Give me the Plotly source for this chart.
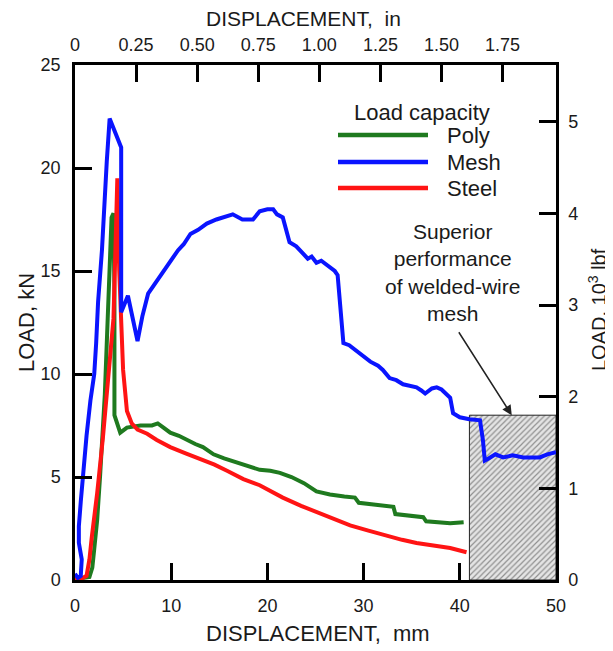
import plotly.graph_objects as go

# ---------------- data (displacement mm, load kN) ----------------
mesh_x = [0.0, 0.3, 0.6, 0.7, 0.4, 0.4, 0.6, 0.85, 1.2, 1.6, 2.0, 2.2, 2.4, 2.8, 3.1, 3.3, 3.6, 4.8, 4.8,
          5.5, 6.5, 7.0, 7.6, 8.5, 9.2, 9.9, 10.7, 11.3, 12.0, 12.8, 13.7, 14.7, 15.8, 16.4, 17.4, 18.5,
          19.2, 20.0, 20.6, 21.0, 21.6, 22.0, 22.3, 23.0, 23.4, 24.2, 24.6, 25.1, 25.6, 26.2, 27.0, 27.3,
          27.6, 27.9, 28.5, 29.3, 30.0, 30.7, 31.5, 32.0, 32.7, 33.4, 34.1, 35.0, 35.5, 36.0, 36.4, 37.1,
          37.6, 38.1, 39.0, 39.3, 40.0, 41.0, 42.1, 42.4, 42.6, 43.0, 43.7, 44.5, 45.5, 46.6, 48.3, 49.1, 50.0]
mesh_y = [0.3, 0.1, 0.2, 1.0, 1.8, 2.6, 3.8, 5.3, 7.0, 8.7, 10.0, 11.5, 13.5, 16.0, 19.0, 20.3, 22.4, 21.0, 13.0,
          13.8, 11.6, 12.8, 13.9, 14.5, 15.0, 15.5, 16.0, 16.3, 16.8, 17.0, 17.3, 17.5, 17.65, 17.75, 17.5, 17.5,
          17.9, 18.0, 18.0, 17.75, 17.6, 16.8, 16.4, 16.2, 16.0, 15.6, 15.7, 15.4, 15.5, 15.3, 15.0, 14.8,
          13.0, 11.5, 11.4, 11.1, 10.9, 10.6, 10.4, 10.2, 9.8, 9.7, 9.5, 9.4, 9.35, 9.2, 9.05, 9.3,
          9.35, 9.25, 8.85, 8.1, 7.9, 7.8, 7.75, 6.8, 5.8, 5.9, 6.1, 5.95, 6.05, 5.95, 5.95, 6.1, 6.2]

poly_x = [0.0, 0.8, 1.5, 1.8, 2.0, 2.3, 2.6, 2.8, 3.1, 3.4, 3.6, 3.8, 4.0, 4.1, 4.1, 4.7, 5.4, 6.8, 8.0,
          8.6, 9.2, 9.9, 10.8, 11.6, 12.5, 13.3, 14.4, 15.5, 16.8, 18.2, 19.2, 20.3, 21.3, 22.5, 23.8,
          25.1, 26.5, 28.0, 29.1, 29.5, 31.0, 33.1, 33.3, 34.5, 36.2, 36.5, 38.0, 39.0, 40.4]
poly_y = [0.1, 0.1, 0.15, 0.6, 1.5, 2.9, 5.0, 6.8, 9.0, 12.7, 16.0, 17.6, 17.8, 14.0, 8.0, 7.15, 7.4, 7.5, 7.5,
          7.6, 7.4, 7.15, 7.0, 6.8, 6.6, 6.45, 6.1, 5.9, 5.7, 5.5, 5.35, 5.3, 5.2, 5.0, 4.7,
          4.3, 4.15, 4.05, 4.0, 3.75, 3.65, 3.55, 3.2, 3.15, 3.05, 2.85, 2.8, 2.75, 2.8]

steel_x = [0.0, 0.8, 1.2, 1.5, 1.75, 2.3, 2.9, 3.2, 3.4, 4.0, 4.2, 4.4, 4.6, 4.8, 5.0, 5.4, 5.9, 6.5, 7.5,
           8.5, 9.9, 11.5, 13.0, 14.5, 15.8, 17.5, 19.2, 21.6, 23.5, 25.1, 27.0, 28.6, 30.5, 32.0, 34.0,
           35.5, 37.5, 39.0, 40.7]
steel_y = [0.1, 0.1, 0.2, 1.0, 2.1, 4.2, 6.9, 8.5, 9.8, 12.7, 16.0, 19.5, 15.0, 12.5, 10.2, 8.2, 7.6, 7.3, 7.1,
           6.8, 6.45, 6.15, 5.9, 5.6, 5.3, 4.9, 4.6, 4.0, 3.6, 3.3, 2.95, 2.65, 2.4, 2.2, 1.95,
           1.8, 1.65, 1.55, 1.35]

# hatched "superior performance" region (mm, kN)
region_x = [41.0, 50.0]
region_top = 8.0

# axis ticks
x_mm_ticks = [0, 10, 20, 30, 40, 50]
y_kn_ticks = [0, 5, 10, 15, 20, 25]
x_in_ticks = [0, 0.25, 0.50, 0.75, 1.00, 1.25, 1.50, 1.75]
x_in_labels = ["0", "0.25", "0.50", "0.75", "1.00", "1.25", "1.50", "1.75"]
y_klbf_ticks = [0, 1, 2, 3, 4, 5]

series_names = ["Poly", "Mesh", "Steel"]
series_colors = ["#1f7a1f", "#0a14ff", "#ff1414"]

X_MAX_MM = 50.0
Y_MAX_KN = 25.0
MM_PER_IN = 25.4
KN_PER_KLBF = 4.448

FONT = "Liberation Sans, Arial, sans-serif"
TXT = "#1a1a1a"

# page body has an 8px margin; plot area spans x 75..556, y 65..580 in the window
OFF = 8
PL, PR, PT, PB = 75, 556, 65, 580

fig = go.Figure()

# hatched region
fig.add_trace(go.Scatter(
    x=[region_x[0], region_x[1], region_x[1], region_x[0], region_x[0]],
    y=[0, 0, region_top, region_top, 0],
    mode="lines", fill="toself",
    line=dict(color="#222222", width=1),
    fillcolor="rgba(0,0,0,0)",
    fillpattern=dict(shape="/", fgcolor="#3a3a3a", bgcolor="#e4e4e4", size=4, solidity=0.3),
    showlegend=False, hoverinfo="skip"))

for nm, xs, ys, col in [("Poly", poly_x, poly_y, series_colors[0]),
                        ("Steel", steel_x, steel_y, series_colors[2]),
                        ("Mesh", mesh_x, mesh_y, series_colors[1])]:
    fig.add_trace(go.Scatter(x=xs, y=ys, mode="lines", name=nm,
                             line=dict(color=col, width=4), showlegend=False))

# secondary axes carrier (empty)
fig.add_trace(go.Scatter(x=[None], y=[None], xaxis="x2", yaxis="y2", mode="lines",
                         showlegend=False, hoverinfo="skip"))

axis_common = dict(showline=True, linecolor="black", linewidth=2.5, ticks="inside",
                   ticklen=17, tickwidth=2.5, tickcolor="black", showgrid=False, zeroline=False,
                   tickfont=dict(family=FONT, size=18, color=TXT))

W, H = 613 - OFF, 651 - OFF
fig.update_layout(
    width=W, height=H,
    margin=dict(l=PL - OFF, r=W - (PR - OFF), t=PT - OFF, b=H - (PB - OFF)),
    paper_bgcolor="white", plot_bgcolor="white",
    showlegend=False,
    xaxis=dict(range=[0, X_MAX_MM], tickvals=x_mm_ticks, ticklabelstandoff=8, **axis_common),
    yaxis=dict(range=[0, Y_MAX_KN], tickvals=y_kn_ticks, ticklabelstandoff=8, **axis_common),
    xaxis2=dict(range=[0, X_MAX_MM / MM_PER_IN], overlaying="x", side="top",
                tickvals=x_in_ticks, ticktext=x_in_labels, ticklabelstandoff=4, **axis_common),
    yaxis2=dict(range=[0, Y_MAX_KN / KN_PER_KLBF], overlaying="y", side="right",
                tickvals=y_klbf_ticks, ticklabelstandoff=6, **axis_common),
)


def px_x(p):
    return (p - PL) / float(PR - PL)


def px_y(p):
    return (PB - p) / float(PB - PT)


def txt(text, x, y, size=22, angle=0, xanchor="center", align="center"):
    return dict(text=text, xref="paper", yref="paper", x=px_x(x), y=px_y(y),
                xanchor=xanchor, yanchor="middle", textangle=angle, align=align,
                showarrow=False, font=dict(family=FONT, size=size, color=TXT))


ann = []
# axis titles (window pixel centres)
ann.append(txt("DISPLACEMENT,  mm", 318, 633))
ann.append(txt("DISPLACEMENT,  in", 303, 18, size=21))
ann.append(txt("LOAD, kN", 26, 323, angle=-90))
ann.append(txt("LOAD, 10<sup>3</sup> lbf", 597, 310, size=20, angle=-90))

# manual legend
ann.append(txt("Load capacity", 422, 112))
shapes = []
for i, (nm, col) in enumerate(zip(series_names, series_colors)):
    yp = [135, 162, 188][i]
    shapes.append(dict(type="line", xref="paper", yref="paper", x0=px_x(338), x1=px_x(428),
                       y0=px_y(yp), y1=px_y(yp), line=dict(color=col, width=4.5)))
    ann.append(txt(nm, 445, yp, xanchor="left"))

# callout text and arrow
ann.append(txt("Superior<br>performance<br>of welded-wire<br>mesh", 452, 272, size=21))
ann.append(dict(text="", x=45.4, y=region_top, xref="x", yref="y", ax=39.8, ay=12.1,
                axref="x", ayref="y", showarrow=True, arrowhead=2, arrowsize=1.3,
                arrowwidth=1.5, arrowcolor="#222222"))

fig.update_layout(annotations=ann, shapes=shapes)

fig.write_html("out.html")
